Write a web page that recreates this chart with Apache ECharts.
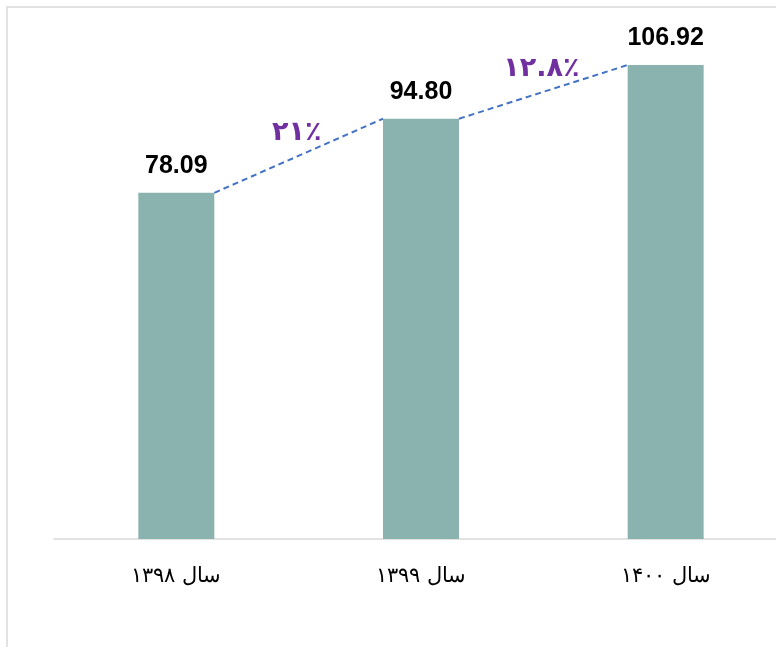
<!DOCTYPE html>
<html lang="fa">
<head>
  <meta charset="UTF-8">
  <script src="https://cdn.jsdelivr.net/npm/echarts@6/dist/echarts.min.js"></script>
  <title>Growth</title>
  <style>
    html, body { margin: 0; padding: 0; background: #fff; }
  </style>
</head>
<body>
  <div id="chart" style="width: 776px; height: 647px;"></div>
  <script>
    // data
    var categories = ['سال ۱۳۹۸', 'سال ۱۳۹۹', 'سال ۱۴۰۰'];
    var values = [78.09, 94.80, 106.92];
    var growthLabels = ['۲۱٪', '۱۲.۸٪'];

    var BAR_W = 76;

    // one segment between each pair of neighbouring bars
    var growthData = [];
    for (var i = 0; i < values.length - 1; i++) {
      growthData.push([i, values[i], values[i + 1]]);
    }

    var chart = echarts.init(document.getElementById('chart'));

    function renderGrowth(params, api) {
      var idx = api.value(0);
      var a = api.coord([idx, api.value(1)]);
      var b = api.coord([idx + 1, api.value(2)]);
      var x1 = a[0] + BAR_W / 2, y1 = a[1];
      var x2 = b[0] - BAR_W / 2, y2 = b[1];
      return {
        type: 'group',
        children: [
          {
            type: 'line',
            shape: { x1: x1, y1: y1, x2: x2, y2: y2 },
            style: { stroke: '#4472C4', lineWidth: 2, lineDash: [6, 4] }
          },
          {
            type: 'text',
            x: (x1 + x2) / 2 - 2,
            y: (y1 + y2) / 2 - 23,
            style: {
              text: growthLabels[params.dataIndex],
              align: 'center',
              verticalAlign: 'middle',
              fill: '#7030A0',
              fontSize: 27,
              fontWeight: 'bold',
              fontFamily: 'DejaVu Sans'
            }
          }
        ]
      };
    }

    var option = {
      animation: false,
      graphic: [{
        type: 'rect',
        shape: { x: 7, y: 7, width: 800, height: 700 },
        style: { fill: 'none', stroke: '#d9d9d9', lineWidth: 1.5 },
        silent: true
      }],
      grid: { left: 54, width: 734, top: 7, bottom: 108, outerBoundsMode: 'none' },
      xAxis: {
        type: 'category',
        data: categories,
        axisLine: { lineStyle: { color: '#d9d9d9', width: 1.5 } },
        axisTick: { show: false },
        axisLabel: {
          color: '#000',
          fontSize: 21,
          fontFamily: 'DejaVu Serif, serif',
          margin: 27
        }
      },
      yAxis: {
        type: 'value',
        min: 0,
        max: 120,
        show: false,
        splitLine: { show: false }
      },
      series: [
        {
          type: 'bar',
          data: values,
          barWidth: BAR_W,
          itemStyle: { color: '#8AB3AF' },
          label: {
            show: true,
            position: 'top',
            distance: 14,
            color: '#000',
            fontSize: 25,
            fontWeight: 'bold',
            fontFamily: 'Liberation Sans',
            formatter: function (p) { return p.value.toFixed(2); }
          }
        },
        {
          type: 'custom',
          data: growthData,
          renderItem: renderGrowth,
          clip: false,
          z: 5
        }
      ]
    };

    chart.setOption(option);
  </script>
</body>
</html>
